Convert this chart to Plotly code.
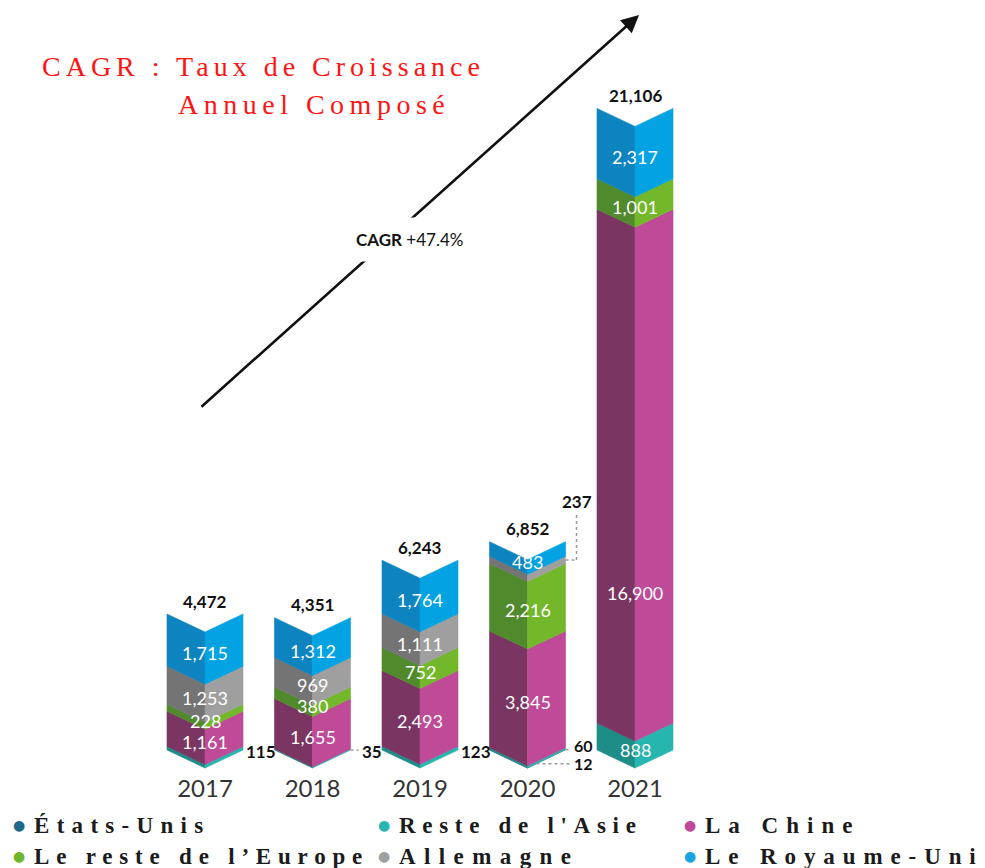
import plotly.graph_objects as go

# ---- data -------------------------------------------------------------
years = ["2017", "2018", "2019", "2020", "2021"]
etats_unis = [0, 0, 0, 12, 0]
reste_asie = [115, 35, 123, 60, 888]
chine = [1161, 1655, 2493, 3845, 16900]
reste_europe = [228, 380, 752, 2216, 1001]
allemagne = [1253, 969, 1111, 237, 0]
royaume_uni = [1715, 1312, 1764, 483, 2317]
totals = [4472, 4351, 6243, 6852, 21106]
cagr_text = "CAGR +47.4%"
title_line1 = "CAGR : Taux de Croissance"
title_line2 = "Annuel Composé"

# stacking order (bottom to top): name, values, shaded side, lit side
series = [
    ("États-Unis", etats_unis, "#17607d", "#1f7898"),
    ("Reste de l'Asie", reste_asie, "#1e8c87", "#27b5b0"),
    ("La Chine", chine, "#7a3562", "#be4a98"),
    ("Le reste de l’Europe", reste_europe, "#508a2c", "#72b82a"),
    ("Allemagne", allemagne, "#747474", "#9f9f9f"),
    ("Le Royaume-Uni", royaume_uni, "#0d84bf", "#02a2e3"),
]
legend_dot_colors = {
    "États-Unis": "#1d6a89",
    "Reste de l'Asie": "#2bb5b0",
    "La Chine": "#c0479a",
    "Le reste de l’Europe": "#6fb62f",
    "Allemagne": "#a0a0a0",
    "Le Royaume-Uni": "#16a4e2",
}
# letter spacing of each legend entry (px)
legend_spacing = {
    "États-Unis": 7.3,
    "Reste de l'Asie": 6.7,
    "La Chine": 8.0,
    "Le reste de l’Europe": 6.8,
    "Allemagne": 8.4,
    "Le Royaume-Uni": 7.9,
}

# ---- geometry / layout constants --------------------------------------
W, H = 985, 868
PLOT_BOTTOM = 772          # pixel row where the plotting area ends
X0_PX, STEP_PX = 205, 107.5
ZERO_PX, PX_PER_UNIT = 768, 0.0304
X_RANGE = [-X0_PX / STEP_PX, (W - X0_PX) / STEP_PX]
Y_RANGE = [-(PLOT_BOTTOM - ZERO_PX) / PX_PER_UNIT, ZERO_PX / PX_PER_UNIT]
HW = 38 / STEP_PX                 # half bar width (x units)
NOTCH = 18 / PX_PER_UNIT          # depth of the chevron (y units)


def ux(px):
    return px / STEP_PX


def uy(px):
    return px / PX_PER_UNIT


def paper_x(px):
    return px / W


def paper_y(px):
    return (PLOT_BOTTOM - px) / PLOT_BOTTOM


fig = go.Figure()

# ---- chevron-shaped stacked bars --------------------------------------
base = [0.0] * len(years)
seg_bounds = {}
for name, vals, dark, light in series:
    lx, ly, rx, ry = [], [], [], []
    for i, v in enumerate(vals):
        b, t = base[i], base[i] + v
        seg_bounds[(name, i)] = (b, t)
        if v > 0:
            lx += [i - HW, i, i, i - HW, i - HW, None]
            ly += [b + NOTCH, b, t, t + NOTCH, b + NOTCH, None]
            rx += [i, i + HW, i + HW, i, i, None]
            ry += [b, b + NOTCH, t + NOTCH, t, b, None]
        base[i] = t
    for xs, ys, col in ((lx, ly, dark), (rx, ry, light)):
        fig.add_trace(go.Scatter(
            x=xs, y=ys, fill="toself", fillcolor=col, mode="lines",
            line=dict(color=col, width=0.6), hoverinfo="skip",
            showlegend=False,
        ))

# ---- value labels inside the segments ---------------------------------
outside = {("États-Unis", 3), ("Reste de l'Asie", 0), ("Reste de l'Asie", 1),
           ("Reste de l'Asie", 2), ("Reste de l'Asie", 3), ("Allemagne", 3)}
label_shift = {("La Chine", 4): -114}
for name, vals, dark, light in series:
    for i, v in enumerate(vals):
        if v <= 0 or (name, i) in outside:
            continue
        b, t = seg_bounds[(name, i)]
        fig.add_annotation(
            x=i, y=(b + t) / 2, text=f"{v:,}", showarrow=False,
            yanchor="middle", yshift=5 + label_shift.get((name, i), 0),
            font=dict(family="Lato", size=18, color="white"),
        )

# ---- small values shown beside the bars --------------------------------
lbl_font = dict(family="Lato", size=17, color="#111111")
small_font = dict(family="Lato", size=16, color="#111111")
dot_line = dict(color="#9a9a9a", width=1.5, dash="dot")
for name, i, lead in (("Reste de l'Asie", 0, 0), ("Reste de l'Asie", 1, 8),
                      ("Reste de l'Asie", 2, 0), ("Reste de l'Asie", 3, 5)):
    b, t = seg_bounds[(name, i)]
    y = b + NOTCH
    if lead:
        fig.add_shape(type="line", x0=i + HW, x1=i + HW + ux(lead), y0=y, y1=y,
                      line=dot_line)
    fig.add_annotation(x=i + HW + ux(lead), y=y, text=f"<b>{reste_asie[i]:,}</b>",
                       showarrow=False, xanchor="left", yanchor="middle", xshift=1,
                       yshift=-1 if i < 3 else 4,
                       font=lbl_font if i < 3 else small_font)

# États-Unis 2020: leader from the bottom face
b, t = seg_bounds[("États-Unis", 3)]
y_lead = b + NOTCH * (ux(9) / HW)
fig.add_shape(type="line", x0=3 + ux(9), x1=3 + HW + ux(5), y0=y_lead, y1=y_lead,
              line=dot_line)
fig.add_annotation(x=3 + HW + ux(5), y=y_lead, text=f"<b>{etats_unis[3]:,}</b>",
                   showarrow=False, xanchor="left", yanchor="middle", xshift=1,
                   yshift=0, font=small_font)

# Allemagne 2020: elbow leader up to the label
b, t = seg_bounds[("Allemagne", 3)]
y_seg = (b + t) / 2 + NOTCH
x_elbow = 3 + HW + ux(11)
fig.add_shape(type="line", x0=3 + HW, x1=x_elbow, y0=y_seg, y1=y_seg, line=dot_line)
fig.add_shape(type="line", x0=x_elbow, x1=x_elbow, y0=y_seg, y1=y_seg + uy(45),
              line=dot_line)
fig.add_annotation(x=x_elbow, y=y_seg + uy(58), text=f"<b>{allemagne[3]:,}</b>",
                   showarrow=False, yanchor="middle", font=lbl_font)

# ---- totals above the bars --------------------------------------------
for i, tot in enumerate(totals):
    fig.add_annotation(x=i, y=tot + NOTCH, text=f"<b>{tot:,}</b>", showarrow=False,
                       yanchor="middle", yshift=13,
                       font=dict(family="Lato", size=17, color="#111111"))

# ---- growth arrow ------------------------------------------------------
fig.add_annotation(
    x=paper_x(639), y=paper_y(15), xref="paper", yref="paper",
    ax=200 - 639, ay=408 - 15, axref="pixel", ayref="pixel",
    text="", showarrow=True, arrowhead=2, arrowsize=1.35, arrowwidth=2.6,
    arrowcolor="#111111", standoff=0,
)
cagr_head, cagr_value = cagr_text.split(" ")
fig.add_annotation(
    x=paper_x(409), y=paper_y(239), xref="paper", yref="paper",
    xanchor="center", yanchor="middle",
    text=f"<b>{cagr_head}</b> {cagr_value}",
    showarrow=False, bgcolor="white", borderpad=11,
    font=dict(family="Lato", size=17, color="#111111"),
)

# ---- title -------------------------------------------------------------
title_font = dict(family="Liberation Serif", size=28, color="#ff1414")
fig.add_annotation(x=paper_x(40), y=paper_y(67), xref="paper", yref="paper",
                   xanchor="left", yanchor="middle", showarrow=False,
                   font=title_font,
                   text=f'<span style="letter-spacing:5px">{title_line1}</span>')
fig.add_annotation(x=paper_x(176), y=paper_y(104), xref="paper", yref="paper",
                   xanchor="left", yanchor="middle", showarrow=False,
                   font=title_font,
                   text=f'<span style="letter-spacing:5.5px">{title_line2}</span>')

# ---- legend (3 columns x 2 rows) --------------------------------------
col_text_x = [32, 397, 703]
row_y = [825, 856]
for k, (name, vals, dark, light) in enumerate(series):
    col, row = k % 3, k // 3
    fig.add_annotation(x=paper_x(col_text_x[col] - 13), y=paper_y(row_y[row]),
                       xref="paper", yref="paper", xanchor="center",
                       yanchor="middle", showarrow=False,
                       text="●", font=dict(family="DejaVu Sans", size=14,
                                           color=legend_dot_colors[name]))
    sp = legend_spacing[name]
    fig.add_annotation(x=paper_x(col_text_x[col]), y=paper_y(row_y[row]),
                       xref="paper", yref="paper", xanchor="left",
                       yanchor="middle", showarrow=False,
                       text=f'<span style="letter-spacing:{sp}px"><b>{name}</b></span>',
                       font=dict(family="Liberation Serif", size=23, color="#1b1b1b"))

fig.update_layout(
    width=W, height=H,
    margin=dict(l=0, r=0, t=0, b=H - PLOT_BOTTOM),
    paper_bgcolor="white", plot_bgcolor="white",
    showlegend=False,
    xaxis=dict(range=X_RANGE, tickmode="array", tickvals=list(range(len(years))),
               ticktext=years, showgrid=False, zeroline=False, showline=False,
               ticks="", tickfont=dict(family="Lato", size=24, color="#333333"),
               fixedrange=True),
    yaxis=dict(range=Y_RANGE, visible=False, fixedrange=True),
)

fig.write_html("out.html")
